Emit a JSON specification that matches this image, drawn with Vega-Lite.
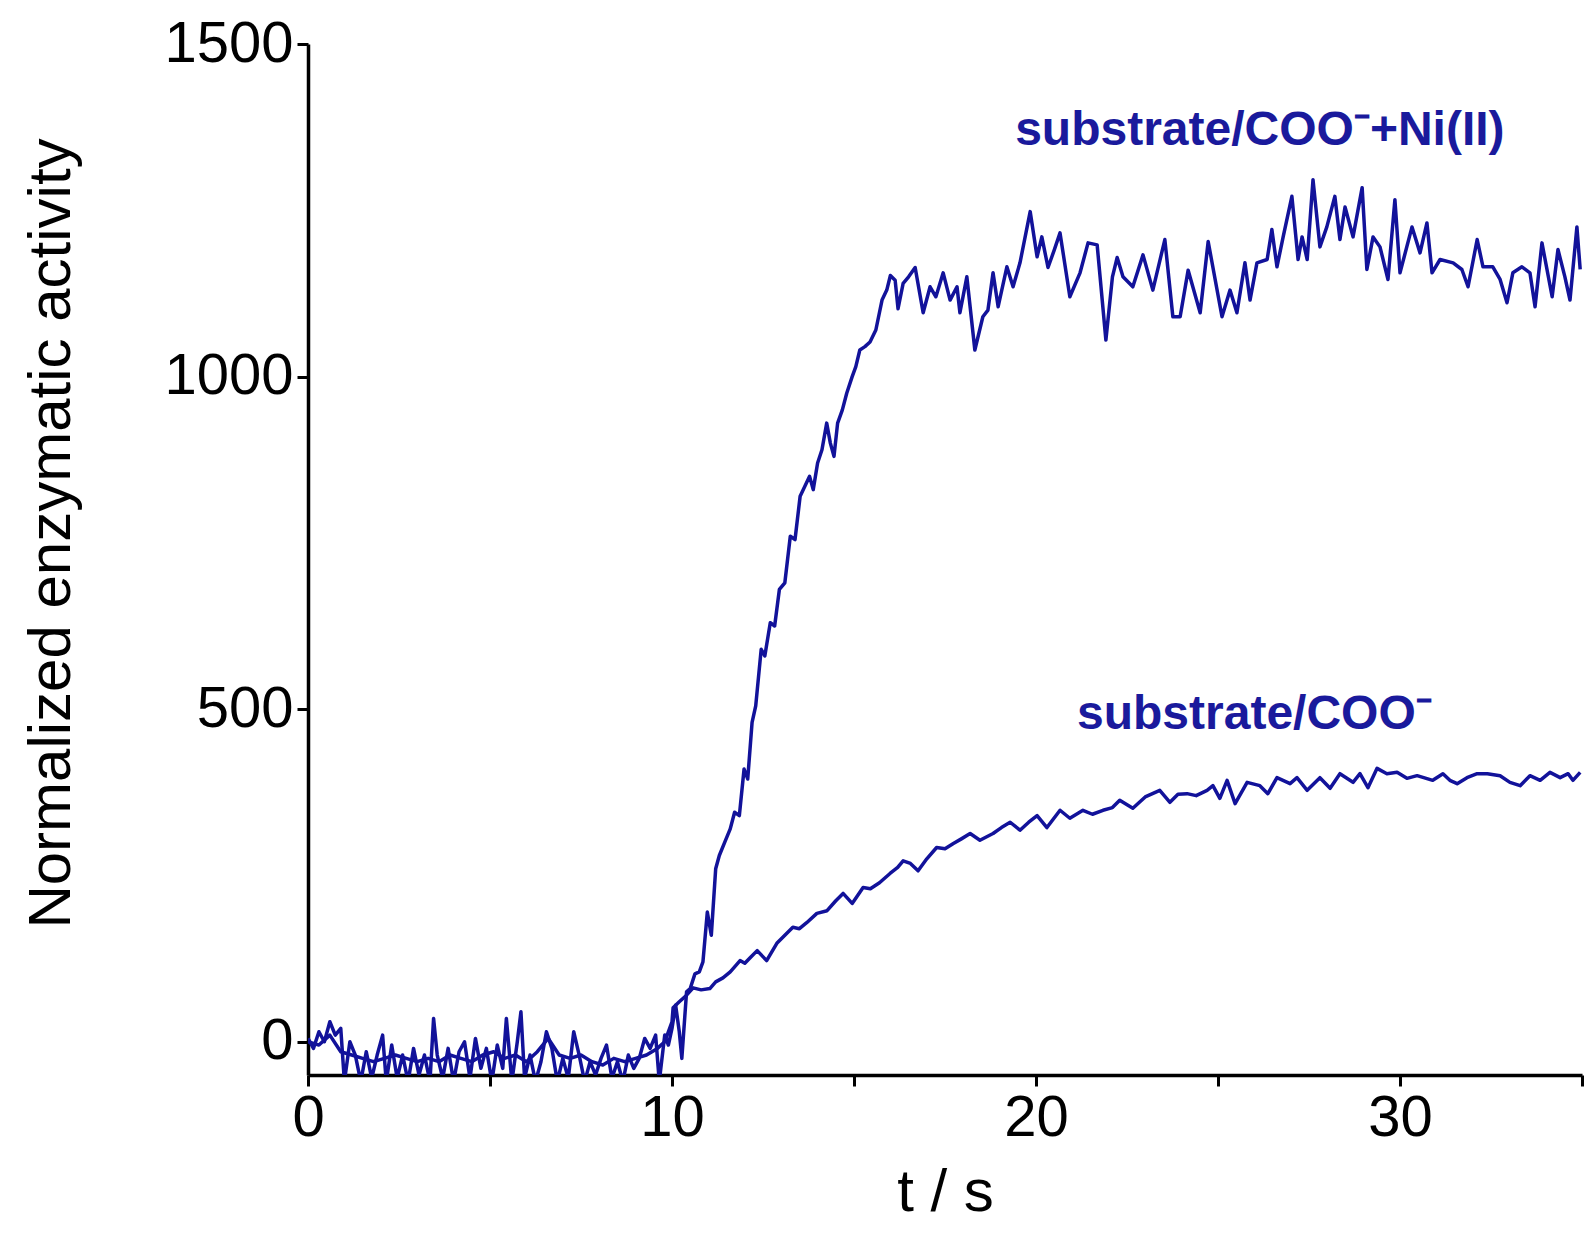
{
  "$schema": "https://vega.github.io/schema/vega-lite/v6.json",
  "width": 1274,
  "height": 1031,
  "autosize": {"type": "none"},
  "padding": {"left": 308, "top": 44, "right": 3, "bottom": 174},
  "background": "white",
  "config": {"view": {"stroke": null}, "font": "Liberation Sans"},
  "layer": [
    {
      "data": {
        "values": [
          {"series": "ni", "t": 0.0, "v": 5}, {"series": "ni", "t": 0.15, "v": -10}, {"series": "ni", "t": 0.3, "v": 15}, {"series": "ni", "t": 0.45, "v": 0}, {"series": "ni", "t": 0.6, "v": 30}, {"series": "ni", "t": 0.75, "v": 10}, {"series": "ni", "t": 0.9, "v": 20}, {"series": "ni", "t": 1.0, "v": -60}, {"series": "ni", "t": 1.15, "v": 0}, {"series": "ni", "t": 1.3, "v": -20}, {"series": "ni", "t": 1.45, "v": -60}, {"series": "ni", "t": 1.6, "v": -15}, {"series": "ni", "t": 1.75, "v": -55}, {"series": "ni", "t": 1.9, "v": -20}, {"series": "ni", "t": 2.05, "v": 10}, {"series": "ni", "t": 2.15, "v": -60}, {"series": "ni", "t": 2.3, "v": -5}, {"series": "ni", "t": 2.45, "v": -55}, {"series": "ni", "t": 2.6, "v": -20}, {"series": "ni", "t": 2.75, "v": -60}, {"series": "ni", "t": 2.9, "v": -10}, {"series": "ni", "t": 3.05, "v": -50}, {"series": "ni", "t": 3.2, "v": -20}, {"series": "ni", "t": 3.35, "v": -60}, {"series": "ni", "t": 3.45, "v": 35}, {"series": "ni", "t": 3.55, "v": -20}, {"series": "ni", "t": 3.7, "v": -55}, {"series": "ni", "t": 3.85, "v": -10}, {"series": "ni", "t": 4.0, "v": -60}, {"series": "ni", "t": 4.15, "v": -15}, {"series": "ni", "t": 4.3, "v": 0}, {"series": "ni", "t": 4.45, "v": -55}, {"series": "ni", "t": 4.6, "v": 5}, {"series": "ni", "t": 4.75, "v": -40}, {"series": "ni", "t": 4.9, "v": -10}, {"series": "ni", "t": 5.05, "v": -60}, {"series": "ni", "t": 5.2, "v": -5}, {"series": "ni", "t": 5.35, "v": -40}, {"series": "ni", "t": 5.45, "v": 35}, {"series": "ni", "t": 5.6, "v": -60}, {"series": "ni", "t": 5.75, "v": 0}, {"series": "ni", "t": 5.85, "v": 45}, {"series": "ni", "t": 5.95, "v": -55}, {"series": "ni", "t": 6.1, "v": -20}, {"series": "ni", "t": 6.25, "v": -60}, {"series": "ni", "t": 6.4, "v": -30}, {"series": "ni", "t": 6.55, "v": 15}, {"series": "ni", "t": 6.7, "v": -10}, {"series": "ni", "t": 6.85, "v": -60}, {"series": "ni", "t": 7.0, "v": -25}, {"series": "ni", "t": 7.15, "v": -55}, {"series": "ni", "t": 7.3, "v": 15}, {"series": "ni", "t": 7.45, "v": -20}, {"series": "ni", "t": 7.6, "v": -60}, {"series": "ni", "t": 7.75, "v": -30}, {"series": "ni", "t": 7.9, "v": -50}, {"series": "ni", "t": 8.05, "v": -25}, {"series": "ni", "t": 8.2, "v": -5}, {"series": "ni", "t": 8.35, "v": -55}, {"series": "ni", "t": 8.5, "v": -30}, {"series": "ni", "t": 8.65, "v": -60}, {"series": "ni", "t": 8.8, "v": -20}, {"series": "ni", "t": 8.95, "v": -40}, {"series": "ni", "t": 9.1, "v": -25}, {"series": "ni", "t": 9.25, "v": 5}, {"series": "ni", "t": 9.4, "v": -10}, {"series": "ni", "t": 9.55, "v": 10}, {"series": "ni", "t": 9.65, "v": -60}, {"series": "ni", "t": 9.8, "v": 10}, {"series": "ni", "t": 9.9, "v": -5},
          {"series": "ni", "t": 10.0, "v": 20}, {"series": "ni", "t": 10.1, "v": 55}, {"series": "ni", "t": 10.2, "v": 15}, {"series": "ni", "t": 10.27, "v": -25}, {"series": "ni", "t": 10.4, "v": 75}, {"series": "ni", "t": 10.5, "v": 80}, {"series": "ni", "t": 10.63, "v": 102}, {"series": "ni", "t": 10.75, "v": 105}, {"series": "ni", "t": 10.85, "v": 120}, {"series": "ni", "t": 10.97, "v": 195}, {"series": "ni", "t": 11.08, "v": 160}, {"series": "ni", "t": 11.2, "v": 260}, {"series": "ni", "t": 11.3, "v": 280}, {"series": "ni", "t": 11.45, "v": 300}, {"series": "ni", "t": 11.6, "v": 320}, {"series": "ni", "t": 11.72, "v": 345}, {"series": "ni", "t": 11.85, "v": 340}, {"series": "ni", "t": 11.98, "v": 410}, {"series": "ni", "t": 12.08, "v": 395}, {"series": "ni", "t": 12.2, "v": 480}, {"series": "ni", "t": 12.3, "v": 505}, {"series": "ni", "t": 12.45, "v": 590}, {"series": "ni", "t": 12.55, "v": 580}, {"series": "ni", "t": 12.7, "v": 630}, {"series": "ni", "t": 12.82, "v": 625}, {"series": "ni", "t": 12.95, "v": 680}, {"series": "ni", "t": 13.1, "v": 690}, {"series": "ni", "t": 13.25, "v": 760}, {"series": "ni", "t": 13.38, "v": 755}, {"series": "ni", "t": 13.52, "v": 820}, {"series": "ni", "t": 13.65, "v": 835}, {"series": "ni", "t": 13.78, "v": 850}, {"series": "ni", "t": 13.88, "v": 830}, {"series": "ni", "t": 14.0, "v": 870}, {"series": "ni", "t": 14.12, "v": 890}, {"series": "ni", "t": 14.25, "v": 930}, {"series": "ni", "t": 14.35, "v": 900}, {"series": "ni", "t": 14.45, "v": 880}, {"series": "ni", "t": 14.55, "v": 930}, {"series": "ni", "t": 14.68, "v": 950}, {"series": "ni", "t": 14.8, "v": 975}, {"series": "ni", "t": 14.95, "v": 1000}, {"series": "ni", "t": 15.05, "v": 1015}, {"series": "ni", "t": 15.16, "v": 1040}, {"series": "ni", "t": 15.3, "v": 1045}, {"series": "ni", "t": 15.44, "v": 1052}, {"series": "ni", "t": 15.6, "v": 1070}, {"series": "ni", "t": 15.77, "v": 1115}, {"series": "ni", "t": 15.9, "v": 1130}, {"series": "ni", "t": 16.0, "v": 1152}, {"series": "ni", "t": 16.13, "v": 1145}, {"series": "ni", "t": 16.21, "v": 1102}, {"series": "ni", "t": 16.35, "v": 1140}, {"series": "ni", "t": 16.5, "v": 1150}, {"series": "ni", "t": 16.68, "v": 1164}, {"series": "ni", "t": 16.9, "v": 1096}, {"series": "ni", "t": 17.09, "v": 1135}, {"series": "ni", "t": 17.25, "v": 1120}, {"series": "ni", "t": 17.45, "v": 1156}, {"series": "ni", "t": 17.64, "v": 1115}, {"series": "ni", "t": 17.83, "v": 1135}, {"series": "ni", "t": 17.91, "v": 1096}, {"series": "ni", "t": 18.1, "v": 1150}, {"series": "ni", "t": 18.32, "v": 1040}, {"series": "ni", "t": 18.54, "v": 1090}, {"series": "ni", "t": 18.68, "v": 1100}, {"series": "ni", "t": 18.82, "v": 1156}, {"series": "ni", "t": 18.96, "v": 1105}, {"series": "ni", "t": 19.2, "v": 1165}, {"series": "ni", "t": 19.37, "v": 1135}, {"series": "ni", "t": 19.56, "v": 1171}, {"series": "ni", "t": 19.84, "v": 1248}, {"series": "ni", "t": 20.03, "v": 1180}, {"series": "ni", "t": 20.16, "v": 1210}, {"series": "ni", "t": 20.33, "v": 1164}, {"series": "ni", "t": 20.5, "v": 1190}, {"series": "ni", "t": 20.66, "v": 1216}, {"series": "ni", "t": 20.93, "v": 1120}, {"series": "ni", "t": 21.21, "v": 1156}, {"series": "ni", "t": 21.43, "v": 1201}, {"series": "ni", "t": 21.68, "v": 1198}, {"series": "ni", "t": 21.92, "v": 1055}, {"series": "ni", "t": 22.1, "v": 1150}, {"series": "ni", "t": 22.23, "v": 1179}, {"series": "ni", "t": 22.39, "v": 1150}, {"series": "ni", "t": 22.66, "v": 1135}, {"series": "ni", "t": 22.94, "v": 1183}, {"series": "ni", "t": 23.21, "v": 1130}, {"series": "ni", "t": 23.54, "v": 1206}, {"series": "ni", "t": 23.76, "v": 1090}, {"series": "ni", "t": 23.96, "v": 1090}, {"series": "ni", "t": 24.18, "v": 1160}, {"series": "ni", "t": 24.51, "v": 1096}, {"series": "ni", "t": 24.73, "v": 1203}, {"series": "ni", "t": 25.11, "v": 1090}, {"series": "ni", "t": 25.33, "v": 1130}, {"series": "ni", "t": 25.52, "v": 1096}, {"series": "ni", "t": 25.74, "v": 1171}, {"series": "ni", "t": 25.88, "v": 1115}, {"series": "ni", "t": 26.07, "v": 1171}, {"series": "ni", "t": 26.35, "v": 1176}, {"series": "ni", "t": 26.48, "v": 1221}, {"series": "ni", "t": 26.62, "v": 1165}, {"series": "ni", "t": 26.79, "v": 1210}, {"series": "ni", "t": 27.03, "v": 1271}, {"series": "ni", "t": 27.2, "v": 1176}, {"series": "ni", "t": 27.31, "v": 1210}, {"series": "ni", "t": 27.45, "v": 1176}, {"series": "ni", "t": 27.61, "v": 1296}, {"series": "ni", "t": 27.8, "v": 1195}, {"series": "ni", "t": 27.99, "v": 1225}, {"series": "ni", "t": 28.21, "v": 1271}, {"series": "ni", "t": 28.35, "v": 1206}, {"series": "ni", "t": 28.49, "v": 1255}, {"series": "ni", "t": 28.71, "v": 1210}, {"series": "ni", "t": 28.96, "v": 1284}, {"series": "ni", "t": 29.09, "v": 1161}, {"series": "ni", "t": 29.26, "v": 1210}, {"series": "ni", "t": 29.45, "v": 1195}, {"series": "ni", "t": 29.67, "v": 1146}, {"series": "ni", "t": 29.86, "v": 1266}, {"series": "ni", "t": 30.0, "v": 1156}, {"series": "ni", "t": 30.33, "v": 1225}, {"series": "ni", "t": 30.55, "v": 1186}, {"series": "ni", "t": 30.74, "v": 1231}, {"series": "ni", "t": 30.88, "v": 1156}, {"series": "ni", "t": 31.1, "v": 1176}, {"series": "ni", "t": 31.46, "v": 1171}, {"series": "ni", "t": 31.7, "v": 1161}, {"series": "ni", "t": 31.87, "v": 1135}, {"series": "ni", "t": 32.12, "v": 1206}, {"series": "ni", "t": 32.28, "v": 1165}, {"series": "ni", "t": 32.55, "v": 1165}, {"series": "ni", "t": 32.75, "v": 1146}, {"series": "ni", "t": 32.94, "v": 1111}, {"series": "ni", "t": 33.1, "v": 1156}, {"series": "ni", "t": 33.35, "v": 1165}, {"series": "ni", "t": 33.57, "v": 1156}, {"series": "ni", "t": 33.71, "v": 1105}, {"series": "ni", "t": 33.9, "v": 1201}, {"series": "ni", "t": 34.18, "v": 1120}, {"series": "ni", "t": 34.34, "v": 1191}, {"series": "ni", "t": 34.53, "v": 1150}, {"series": "ni", "t": 34.67, "v": 1115}, {"series": "ni", "t": 34.86, "v": 1225}, {"series": "ni", "t": 34.95, "v": 1161},
          {"series": "coo", "t": 0.0, "v": 0}, {"series": "coo", "t": 0.3, "v": -5}, {"series": "coo", "t": 0.6, "v": 10}, {"series": "coo", "t": 0.9, "v": -15}, {"series": "coo", "t": 1.2, "v": -20}, {"series": "coo", "t": 1.5, "v": -25}, {"series": "coo", "t": 1.8, "v": -30}, {"series": "coo", "t": 2.1, "v": -25}, {"series": "coo", "t": 2.4, "v": -20}, {"series": "coo", "t": 2.7, "v": -25}, {"series": "coo", "t": 3.0, "v": -30}, {"series": "coo", "t": 3.3, "v": -25}, {"series": "coo", "t": 3.6, "v": -30}, {"series": "coo", "t": 3.9, "v": -20}, {"series": "coo", "t": 4.2, "v": -25}, {"series": "coo", "t": 4.5, "v": -30}, {"series": "coo", "t": 4.8, "v": -20}, {"series": "coo", "t": 5.1, "v": -15}, {"series": "coo", "t": 5.4, "v": -25}, {"series": "coo", "t": 5.7, "v": -20}, {"series": "coo", "t": 6.0, "v": -30}, {"series": "coo", "t": 6.3, "v": -15}, {"series": "coo", "t": 6.6, "v": 5}, {"series": "coo", "t": 6.9, "v": -20}, {"series": "coo", "t": 7.2, "v": -25}, {"series": "coo", "t": 7.5, "v": -20}, {"series": "coo", "t": 7.8, "v": -30}, {"series": "coo", "t": 8.1, "v": -35}, {"series": "coo", "t": 8.4, "v": -25}, {"series": "coo", "t": 8.7, "v": -30}, {"series": "coo", "t": 9.0, "v": -25}, {"series": "coo", "t": 9.3, "v": -20}, {"series": "coo", "t": 9.6, "v": -10}, {"series": "coo", "t": 9.8, "v": 0},
          {"series": "coo", "t": 10.0, "v": 30}, {"series": "coo", "t": 10.03, "v": 51}, {"series": "coo", "t": 10.2, "v": 60}, {"series": "coo", "t": 10.4, "v": 70}, {"series": "coo", "t": 10.58, "v": 81}, {"series": "coo", "t": 10.8, "v": 78}, {"series": "coo", "t": 11.04, "v": 80}, {"series": "coo", "t": 11.2, "v": 90}, {"series": "coo", "t": 11.4, "v": 96}, {"series": "coo", "t": 11.6, "v": 105}, {"series": "coo", "t": 11.87, "v": 122}, {"series": "coo", "t": 12.0, "v": 118}, {"series": "coo", "t": 12.14, "v": 126}, {"series": "coo", "t": 12.34, "v": 137}, {"series": "coo", "t": 12.6, "v": 122}, {"series": "coo", "t": 12.88, "v": 148}, {"series": "coo", "t": 13.1, "v": 160}, {"series": "coo", "t": 13.32, "v": 172}, {"series": "coo", "t": 13.5, "v": 170}, {"series": "coo", "t": 13.7, "v": 179}, {"series": "coo", "t": 13.98, "v": 193}, {"series": "coo", "t": 14.26, "v": 197}, {"series": "coo", "t": 14.5, "v": 212}, {"series": "coo", "t": 14.7, "v": 223}, {"series": "coo", "t": 14.95, "v": 208}, {"series": "coo", "t": 15.25, "v": 232}, {"series": "coo", "t": 15.45, "v": 230}, {"series": "coo", "t": 15.7, "v": 239}, {"series": "coo", "t": 15.99, "v": 253}, {"series": "coo", "t": 16.2, "v": 262}, {"series": "coo", "t": 16.35, "v": 272}, {"series": "coo", "t": 16.55, "v": 268}, {"series": "coo", "t": 16.76, "v": 257}, {"series": "coo", "t": 17.0, "v": 275}, {"series": "coo", "t": 17.27, "v": 292}, {"series": "coo", "t": 17.5, "v": 290}, {"series": "coo", "t": 17.73, "v": 298}, {"series": "coo", "t": 17.95, "v": 305}, {"series": "coo", "t": 18.19, "v": 313}, {"series": "coo", "t": 18.46, "v": 303}, {"series": "coo", "t": 18.82, "v": 313}, {"series": "coo", "t": 19.05, "v": 322}, {"series": "coo", "t": 19.29, "v": 330}, {"series": "coo", "t": 19.56, "v": 318}, {"series": "coo", "t": 19.8, "v": 330}, {"series": "coo", "t": 20.03, "v": 340}, {"series": "coo", "t": 20.3, "v": 322}, {"series": "coo", "t": 20.66, "v": 348}, {"series": "coo", "t": 20.93, "v": 336}, {"series": "coo", "t": 21.29, "v": 348}, {"series": "coo", "t": 21.55, "v": 342}, {"series": "coo", "t": 21.84, "v": 348}, {"series": "coo", "t": 22.1, "v": 352}, {"series": "coo", "t": 22.3, "v": 363}, {"series": "coo", "t": 22.66, "v": 351}, {"series": "coo", "t": 23.0, "v": 368}, {"series": "coo", "t": 23.4, "v": 378}, {"series": "coo", "t": 23.68, "v": 360}, {"series": "coo", "t": 23.9, "v": 372}, {"series": "coo", "t": 24.15, "v": 373}, {"series": "coo", "t": 24.4, "v": 370}, {"series": "coo", "t": 24.7, "v": 378}, {"series": "coo", "t": 24.86, "v": 385}, {"series": "coo", "t": 25.05, "v": 366}, {"series": "coo", "t": 25.25, "v": 393}, {"series": "coo", "t": 25.47, "v": 358}, {"series": "coo", "t": 25.8, "v": 390}, {"series": "coo", "t": 26.15, "v": 385}, {"series": "coo", "t": 26.37, "v": 373}, {"series": "coo", "t": 26.62, "v": 397}, {"series": "coo", "t": 26.98, "v": 388}, {"series": "coo", "t": 27.17, "v": 397}, {"series": "coo", "t": 27.45, "v": 378}, {"series": "coo", "t": 27.8, "v": 397}, {"series": "coo", "t": 28.08, "v": 381}, {"series": "coo", "t": 28.35, "v": 403}, {"series": "coo", "t": 28.71, "v": 390}, {"series": "coo", "t": 28.9, "v": 403}, {"series": "coo", "t": 29.12, "v": 382}, {"series": "coo", "t": 29.37, "v": 411}, {"series": "coo", "t": 29.64, "v": 403}, {"series": "coo", "t": 29.92, "v": 405}, {"series": "coo", "t": 30.19, "v": 396}, {"series": "coo", "t": 30.47, "v": 400}, {"series": "coo", "t": 30.9, "v": 393}, {"series": "coo", "t": 31.18, "v": 403}, {"series": "coo", "t": 31.37, "v": 393}, {"series": "coo", "t": 31.57, "v": 388}, {"series": "coo", "t": 31.84, "v": 397}, {"series": "coo", "t": 32.12, "v": 403}, {"series": "coo", "t": 32.4, "v": 403}, {"series": "coo", "t": 32.75, "v": 400}, {"series": "coo", "t": 33.02, "v": 390}, {"series": "coo", "t": 33.3, "v": 385}, {"series": "coo", "t": 33.57, "v": 400}, {"series": "coo", "t": 33.85, "v": 393}, {"series": "coo", "t": 34.12, "v": 405}, {"series": "coo", "t": 34.4, "v": 397}, {"series": "coo", "t": 34.62, "v": 403}, {"series": "coo", "t": 34.75, "v": 393}, {"series": "coo", "t": 34.95, "v": 405}
        ]
      },
      "mark": {"type": "line", "color": "#12129a", "strokeWidth": 3.5, "clip": true, "strokeJoin": "round"},
      "encoding": {
        "x": {
          "field": "t", "type": "quantitative",
          "scale": {"domain": [0, 35], "nice": false, "zero": false},
          "axis": {
            "values": [0, 5, 10, 15, 20, 25, 30, 35],
            "labelExpr": "datum.value % 10 === 0 ? datum.label : ''",
            "grid": false, "domainColor": "black", "domainWidth": 3.5, "tickColor": "black", "tickWidth": 3, "tickSize": 11,
            "labelFontSize": 58, "labelColor": "black", "labelPadding": 3, "labelFlush": false, "labelOverlap": false,
            "title": "t / s", "titleFontSize": 60, "titleFontWeight": "normal", "titleColor": "black",
            "titleX": 637, "titleY": 135, "titleBaseline": "alphabetic", "titleAlign": "center"
          }
        },
        "y": {
          "field": "v", "type": "quantitative",
          "scale": {"domain": [-50, 1500], "nice": false, "zero": false},
          "axis": {
            "values": [0, 500, 1000, 1500],
            "format": "d",
            "grid": false, "domainColor": "black", "domainWidth": 3.5, "tickColor": "black", "tickWidth": 3, "tickSize": 11,
            "labelFontSize": 58, "labelColor": "black", "labelPadding": 4, "labelFlush": false, "labelOverlap": false,
            "title": "Normalized enzymatic activity", "titleFontSize": 60, "titleFontWeight": "normal", "titleColor": "black",
            "titleX": -239, "titleY": 489, "titleBaseline": "alphabetic", "titleAlign": "center"
          }
        },
        "detail": {"field": "series"}
      }
    },
    {
      "data": {
        "values": [
          {"t": 26.15, "v": 1369, "label": "substrate/COO⁻+Ni(II)"},
          {"t": 26.0, "v": 491, "label": "substrate/COO⁻"}
        ]
      },
      "mark": {"type": "text", "fontWeight": "bold", "fontSize": 48, "color": "#1a1a9c", "align": "center", "baseline": "middle"},
      "encoding": {
        "x": {"field": "t", "type": "quantitative"},
        "y": {"field": "v", "type": "quantitative"},
        "text": {"field": "label"}
      }
    }
  ]
}
